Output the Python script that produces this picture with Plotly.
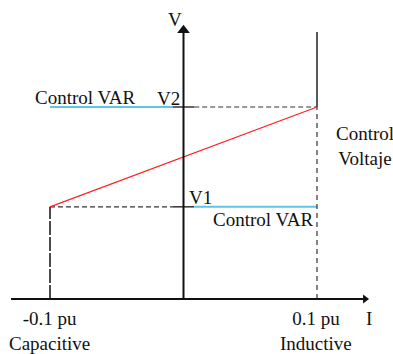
import plotly.graph_objects as go

# ---- data ----
I_limits = [-0.1, 0.1]            # capacitive / inductive current limits (pu)
V_levels = [0.48, 1.0]            # V1, V2
V_labels = ["V1", "V2"]
I_tick_labels = ["-0.1 pu", "0.1 pu"]
I_tick_sub = ["Capacitive", "Inductive"]
axis_I_extent = [-0.1292, 0.1360]  # horizontal axis span
axis_V_extent = [0.0, 1.40]        # vertical axis span
right_limit_top = 1.39
tick_stub = 0.008                  # half-length of solid stub at V axis

# body margin is removed by a post script, so the figure fills the window
OFF = 0
W, H = 393 - OFF, 354 - OFF
px_per_I = 267 / 0.2
px_per_V = 192 / 1.0
xmin = I_limits[0] - (50 - OFF) / px_per_I
xmax = xmin + W / px_per_I
ymax = (299 - OFF) / px_per_V
ymin = ymax - H / px_per_V

def px_x(p):  # screenshot pixel -> data x (for text placement)
    return xmin + (p - OFF) / px_per_I

def px_y(p):
    return ymax - (p - OFF) / px_per_V

FONT = "Liberation Serif, Times New Roman, serif"
BLACK = "#111111"
DASH = "#333333"
BLUE = "#5cc6ea"
RED = "#ff2020"

fig = go.Figure()

def line(x, y, color, width, dash="solid"):
    fig.add_trace(go.Scatter(x=x, y=y, mode="lines",
                             line=dict(color=color, width=width, dash=dash),
                             hoverinfo="skip", showlegend=False))

V1, V2 = V_levels
Ilo, Ihi = I_limits

# V2 level: blue (control VAR) on the left, dashed on the right
line([Ilo, -tick_stub], [V2, V2], BLUE, 2)
line([-tick_stub, tick_stub], [V2, V2], BLACK, 1.3)
line([tick_stub, Ihi], [V2, V2], DASH, 1.2, "5px,3px")

# V1 level: dashed on the left, blue on the right
line([Ilo, -tick_stub], [V1, V1], DASH, 1.2, "5px,3px")
line([-tick_stub, tick_stub], [V1, V1], BLACK, 1.3)
line([tick_stub, Ihi], [V1, V1], BLUE, 2)

# limit verticals
line([Ilo, Ilo], [0, V1], "#222222", 1.6, "14px,2px")
line([Ihi, Ihi], [V2, right_limit_top], "#222222", 1.5)
line([Ihi, Ihi], [0, V2], DASH, 1.2, "5px,4px")

# control voltage slope
line([Ilo, Ihi], [V1, V2], RED, 1.2)

# axes
line(axis_I_extent, [0, 0], BLACK, 2)
line([0, 0], axis_V_extent, BLACK, 2)
fig.add_trace(go.Scatter(x=[axis_I_extent[1]], y=[0], mode="markers",
                         marker=dict(symbol="triangle-right", size=8, color=BLACK),
                         hoverinfo="skip", showlegend=False))
fig.add_trace(go.Scatter(x=[0], y=[axis_V_extent[1]], mode="markers",
                         marker=dict(symbol="triangle-up", size=11, color=BLACK),
                         hoverinfo="skip", showlegend=False))

def text(x, y, s, xanchor="center", yanchor="middle", size=19):
    fig.add_annotation(x=x, y=y, text=s, showarrow=False, xanchor=xanchor,
                       yanchor=yanchor, font=dict(family=FONT, size=size, color=BLACK))

text(px_x(175), px_y(19), "V")
text(px_x(369), px_y(318), "I")
text(px_x(168), px_y(98), V_labels[1])
text(px_x(200), px_y(197), V_labels[0])
text(px_x(85), px_y(97), "Control VAR")
text(px_x(263), px_y(219), "Control VAR")
text(px_x(365), px_y(146), "Control<br>Voltaje")
for i, x in enumerate(I_limits):
    text(x - 0.0005, px_y(331), I_tick_labels[i] + "<br>" + I_tick_sub[i])

fig.update_xaxes(range=[xmin, xmax], visible=False, fixedrange=True)
fig.update_yaxes(range=[ymin, ymax], visible=False, fixedrange=True)
fig.update_layout(width=W, height=H, margin=dict(l=0, r=0, t=0, b=0),
                  plot_bgcolor="white", paper_bgcolor="white", hovermode=False)

fig.write_html(
    "out.html",
    config={"displayModeBar": False, "staticPlot": True},
    post_script="document.body.style.margin='0';"
                "document.documentElement.style.overflow='hidden';"
                "document.body.style.overflow='hidden';",
)
